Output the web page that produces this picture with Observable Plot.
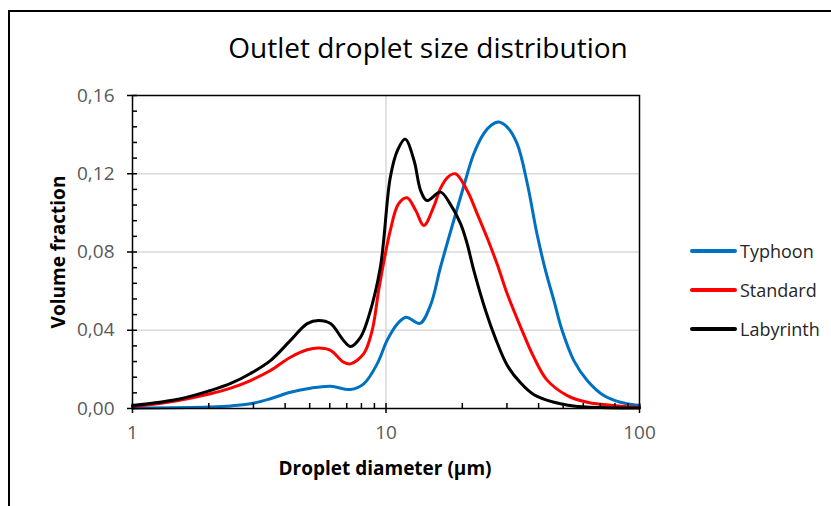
<!DOCTYPE html>
<html><head><meta charset="utf-8">
<script src="https://cdn.jsdelivr.net/npm/d3@7"></script>
<script src="https://cdn.jsdelivr.net/npm/@observablehq/plot@0.6"></script>
<style>
body{margin:0;background:#fff;font-family:"Open Sans",sans-serif;}
#wrap{position:relative;width:831px;height:506px;overflow:hidden;background:#fff;}
#border{position:absolute;left:8px;top:10px;width:900px;height:600px;border:2px solid #000;box-sizing:border-box;}
#chart{position:absolute;left:0;top:0;}
#title{position:absolute;left:0;width:856px;top:29px;text-align:center;font-size:28px;color:#000;line-height:36px;}
#ylab{position:absolute;left:58px;top:252px;transform:translate(-50%,-50%) rotate(-90deg);font-weight:bold;font-size:19px;color:#000;white-space:nowrap;}
#xlab{position:absolute;left:385px;top:468px;transform:translate(-50%,-50%);font-weight:bold;font-size:19px;color:#000;white-space:nowrap;}
.leg{position:absolute;left:690px;height:22px;display:flex;align-items:center;font-size:18px;color:#262626;transform:translateY(-50%);}
.leg span.sw{display:inline-block;width:47px;height:4px;border-radius:2px;margin-right:3px;}
</style>
</head><body>
<div id="wrap">
<div id="border"></div>
<div id="chart"></div>
<div id="title">Outlet droplet size distribution</div>
<div id="ylab">Volume fraction</div>
<div id="xlab">Droplet diameter (µm)</div>
<div id="legend"></div>
</div>
<script>
const seriesNames = ["Typhoon", "Standard", "Labyrinth"];
const seriesColors = ["#0070C0", "#FF0000", "#000000"];

const typhoonD = [1, 2, 2.44, 2.92, 3.5, 4.2, 5.04, 6.04, 7.24, 8.17, 9.23, 10.1, 11.1, 12.0, 13.6, 15.0, 16.4, 18.5, 20.3, 22.2, 24.3, 26.0, 27.8, 30.0, 32.9, 36.1, 39.4, 42.5, 46.0, 49.5, 55.1, 62.2, 72.3, 84.0, 100];
const typhoonV = [0.0002, 0.0008, 0.0013, 0.0024, 0.005, 0.0083, 0.0104, 0.0114, 0.0097, 0.0126, 0.0228, 0.0348, 0.0433, 0.0467, 0.0435, 0.053, 0.0722, 0.0961, 0.114, 0.1302, 0.1405, 0.1448, 0.1464, 0.1440, 0.1354, 0.1149, 0.0893, 0.071, 0.055, 0.040, 0.0245, 0.0143, 0.0066, 0.0032, 0.0015];

const standardD = [1, 1.5, 2.03, 2.44, 2.92, 3.5, 4.2, 4.89, 5.42, 6.04, 6.8, 7.24, 8.17, 8.82, 9.4, 10.4, 11.2, 12.1, 13.1, 14.1, 15.4, 16.4, 17.5, 18.8, 20.9, 22.9, 25.1, 27.5, 30.1, 34.0, 38.2, 43.2, 51.9, 62.2, 84.0, 100];
const standardV = [0.001, 0.004, 0.0075, 0.0104, 0.0143, 0.0194, 0.0262, 0.030, 0.0309, 0.0297, 0.0237, 0.0228, 0.028, 0.0399, 0.062, 0.091, 0.1046, 0.1077, 0.1012, 0.0935, 0.1029, 0.1125, 0.1182, 0.12, 0.1114, 0.0995, 0.0870, 0.0735, 0.0585, 0.0415, 0.0265, 0.0145, 0.0066, 0.0032, 0.0012, 0.0006];

const labyrinthD = [1, 1.55, 2.03, 2.44, 2.92, 3.5, 4.2, 4.89, 5.42, 6.04, 6.8, 7.24, 7.93, 8.53, 9.5, 10.4, 11.1, 11.9, 12.9, 13.7, 14.5, 16.4, 17.9, 19.7, 20.9, 22.2, 24.7, 27.0, 30.1, 34.0, 38.2, 46.0, 55.0, 70.0, 100];
const labyrinthV = [0.0015, 0.005, 0.0092, 0.0128, 0.0179, 0.0245, 0.0348, 0.0434, 0.045, 0.0434, 0.0348, 0.0317, 0.0364, 0.0467, 0.0722, 0.1182, 0.1319, 0.1377, 0.1268, 0.1114, 0.1063, 0.1106, 0.1046, 0.0944, 0.0842, 0.0706, 0.0501, 0.036, 0.022, 0.013, 0.0072, 0.0032, 0.0013, 0.0005, 0.0002];

const xMajorTicks = [1, 10, 100];
const xMinorTicks = [2, 3, 4, 5, 6, 7, 8, 9, 20, 30, 40, 50, 60, 70, 80, 90];
const xGridTicks = [10];
const yMajorTicks = [0, 0.04, 0.08, 0.12, 0.16];
const yMinorTicks = [0.008, 0.016, 0.024, 0.032, 0.048, 0.056, 0.064, 0.072, 0.088, 0.096, 0.104, 0.112, 0.128, 0.136, 0.144, 0.152];
const yGridTicks = [0.04, 0.08, 0.12];

const toRows = (D, V) => D.map((d, i) => ({d, v: V[i]}));
const seriesData = [toRows(typhoonD, typhoonV), toRows(standardD, standardV), toRows(labyrinthD, labyrinthV)];
const fmtY = v => d3.format(".2f")(v).replace(".", ",");
const blank = () => "";

const chart = Plot.plot({
  width: 831, height: 506,
  marginLeft: 132, marginRight: 192, marginTop: 95, marginBottom: 98,
  x: {type: "log", domain: [1, 100]},
  y: {domain: [0, 0.16]},
  style: {fontFamily: "'Open Sans', sans-serif", fontSize: "19px", color: "#595959", background: "transparent", overflow: "visible"},
  marks: [
    Plot.gridY(yGridTicks, {stroke: "#d9d9d9", strokeOpacity: 1, strokeWidth: 1.5}),
    Plot.gridX(xGridTicks, {stroke: "#d9d9d9", strokeOpacity: 1, strokeWidth: 1.5}),
    ...seriesData.map((rows, i) => Plot.line(rows, {x: "d", y: "v", stroke: seriesColors[i], strokeWidth: 3, curve: "catmull-rom"})),
    Plot.frame({stroke: "#000", strokeWidth: 1.5}),
    Plot.axisY(yMajorTicks, {tickSize: 10, dx: 5, tickFormat: blank, label: null, stroke: "#000", strokeWidth: 1.5}),
    Plot.axisY(yMinorTicks, {tickSize: 5, dx: 5, tickFormat: blank, label: null, stroke: "#000", strokeWidth: 1.5}),
    Plot.axisY(yMajorTicks, {tickSize: 0, tickPadding: 18, tickFormat: fmtY, label: null, fill: "#595959"}),
    Plot.axisX(xMajorTicks, {tickSize: 10, dy: -5, tickFormat: blank, label: null, stroke: "#000", strokeWidth: 1.5}),
    Plot.axisX(xMinorTicks, {tickSize: 5, dy: -5, tickFormat: blank, label: null, stroke: "#000", strokeWidth: 1.5}),
    Plot.axisX(xMajorTicks, {tickSize: 0, tickPadding: 17, tickFormat: d => String(d), label: null, fill: "#595959"})
  ]
});
document.getElementById("chart").appendChild(chart);

const legendY = [251, 290, 329];
const legend = document.getElementById("legend");
seriesNames.forEach((name, i) => {
  const el = document.createElement("div");
  el.className = "leg";
  el.style.top = legendY[i] + "px";
  el.innerHTML = `<span class="sw" style="background:${seriesColors[i]}"></span>${name}`;
  legend.appendChild(el);
});
</script>
</body></html>
